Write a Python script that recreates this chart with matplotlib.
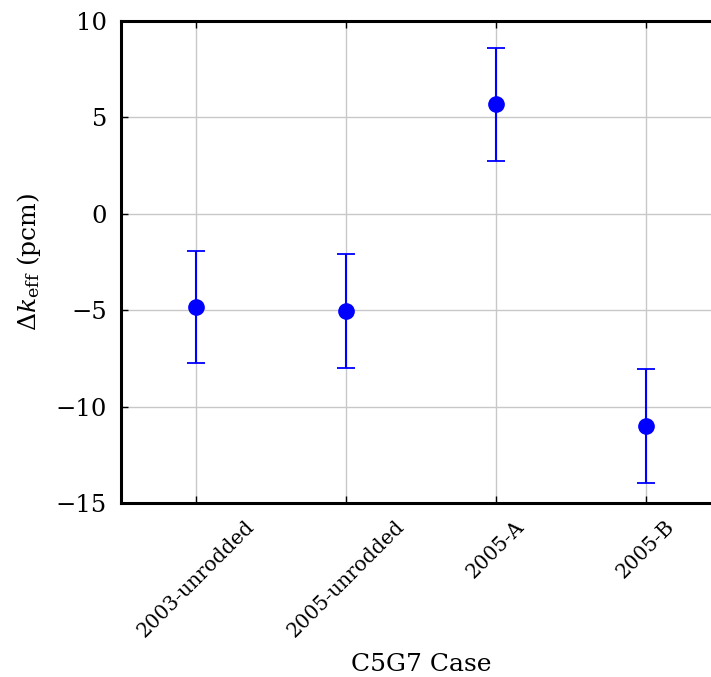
import matplotlib
matplotlib.use("Agg")
import matplotlib.pyplot as plt

cases = ["2003-unrodded", "2005-unrodded", "2005-A", "2005-B"]
delta_keff = [-4.83, -5.03, 5.67, -11.0]
uncertainty = [2.9, 2.95, 2.95, 2.95]
yticks = [-15, -10, -5, 0, 5, 10]

plt.rcParams['font.family'] = 'DejaVu Serif'
plt.rcParams['mathtext.fontset'] = 'dejavuserif'

fig = plt.figure(figsize=(7.11, 6.77), dpi=100)
ax = fig.add_axes([121/711, 1-503/677, 600/711, 482/677])

x = list(range(len(cases)))
ax.errorbar(x, delta_keff, yerr=uncertainty, fmt='o', color='blue',
            ecolor='blue', markersize=11, capsize=6.3, elinewidth=1.5,
            capthick=1.3, zorder=3)

ax.set_xlim(-0.5, 3.5)
ax.set_ylim(-15, 10)
ax.set_yticks(yticks)
ax.set_yticklabels([str(t).replace('-', '\u2212') for t in yticks], fontsize=17.5)
ax.set_xticks(x)
ax.set_xticklabels(cases, rotation=45, ha='center', fontsize=14.5)
ax.grid(True, color='#c8c8c8', linewidth=1, zorder=0)
ax.set_axisbelow(True)
ax.tick_params(direction='in', length=5, width=1, top=True, right=True, pad=10)
for s in ax.spines.values():
    s.set_linewidth(2.2)
ax.set_xlabel("C5G7 Case", fontsize=18, labelpad=9)
ax.set_ylabel(r"$\Delta k_{\rm eff}$ (pcm)", fontsize=18, labelpad=9)

fig.savefig("out.png", dpi=100)
